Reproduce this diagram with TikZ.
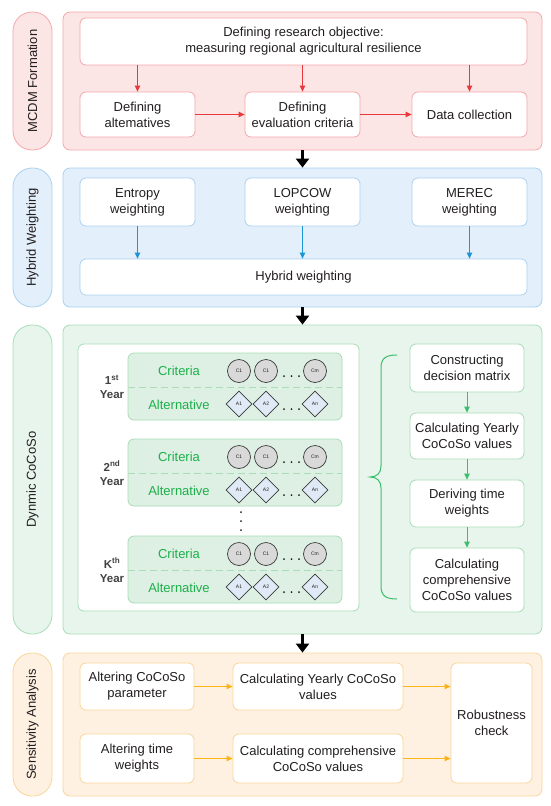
\documentclass[tikz,border=0pt]{standalone}
\usepackage{fontspec}
\setmainfont{Liberation Sans}
\usetikzlibrary{arrows.meta,shapes.geometric}
\definecolor{txt}{HTML}{231F20}
\definecolor{redfill}{HTML}{FCE5E5}
\definecolor{redline}{HTML}{F4A8AA}
\definecolor{redarr}{HTML}{E8383D}
\definecolor{bluefill}{HTML}{E3EFFA}
\definecolor{blueline}{HTML}{A9D2F0}
\definecolor{bluearr}{HTML}{1B95D3}
\definecolor{grnfill}{HTML}{E8F5EC}
\definecolor{grnline}{HTML}{A8DDB8}
\definecolor{grnblock}{HTML}{DDF0E3}
\definecolor{grntxt}{HTML}{1DB04A}
\definecolor{grnarr}{HTML}{3DBE6C}
\definecolor{orfill}{HTML}{FEF1E1}
\definecolor{orline}{HTML}{FAD59B}
\definecolor{orarr}{HTML}{FDB515}
\definecolor{critfill}{HTML}{D9D9D9}
\definecolor{altfill}{HTML}{E0EAF6}
\definecolor{shapeline}{HTML}{3A3A3A}
% \rbox{style}{name}{x1}{y1}{x2}{y2}{text}
\newcommand\rbox[7]{\node[#1, minimum width={#5-#3}, minimum height={#6-#4}] (#2) at ({(#3+#5)/2},{(#4+#6)/2}) {#7};}
\begin{document}
\begin{tikzpicture}[x=1pt,y=-1pt,
  base/.style={font=\fontsize{13}{16}\selectfont, text=txt, align=center},
  panel/.style={rounded corners=7pt, line width=0.8pt, inner sep=0pt},
  pill/.style={rounded corners=19pt, line width=0.8pt, inner sep=0pt},
  box/.style={base, draw, fill=white, rounded corners=6pt, line width=0.8pt, inner sep=0pt},
  sidelab/.style={base, rotate=90},
  arr/.style={line width=1pt, -{Triangle[length=6pt,width=5.5pt]}},
  bigarr/.style={line width=3.6pt, draw=black, -{Triangle[length=9pt,width=13pt]}},
  crit/.style={circle, draw=shapeline, fill=critfill, line width=0.7pt, minimum size=23pt, inner sep=0pt, font=\fontsize{5}{6}\selectfont, text=txt},
  alt/.style={diamond, draw=shapeline, fill=altfill, line width=0.7pt, minimum width=26pt, minimum height=26pt, inner sep=0pt, font=\fontsize{5}{6}\selectfont, text=txt},
  gtxt/.style={font=\fontsize{13}{15}\selectfont, text=grntxt},
  yeartxt/.style={font=\bfseries\fontsize{11.5}{15}\selectfont, text=txt!85, align=center},
  dot/.style={circle, fill=txt, inner sep=0pt, minimum size=2pt}
]
\useasboundingbox (0,0) rectangle (550,806);

% ---------- panels and side pills ----------
\rbox{panel, draw=redline, fill=redfill}{p1}{63}{12}{542}{150}{}
\rbox{pill, draw=redline, fill=redfill}{s1}{13}{12}{52}{150}{}
\node[sidelab] at (s1.center) {MCDM Formation};

\rbox{panel, draw=blueline, fill=bluefill}{p2}{63}{168}{542}{307}{}
\rbox{pill, draw=blueline, fill=bluefill}{s2}{13}{168}{52}{307}{}
\node[sidelab] at (s2.center) {Hybrid Weighting};

\rbox{panel, draw=grnline, fill=grnfill}{p3}{63}{325}{542}{634}{}
\rbox{pill, draw=grnline, fill=grnfill}{s3}{13}{325}{52}{634}{}
\node[sidelab] at (s3.center) {Dynmic CoCoSo};

\rbox{panel, draw=orline, fill=orfill}{p4}{63}{653}{542}{796}{}
\rbox{pill, draw=orline, fill=orfill}{s4}{13}{653}{52}{796}{}
\node[sidelab] at (s4.center) {Sensitivity Analysis};

\draw[bigarr] (p1.south) -- (p2.north);
\draw[bigarr] (p2.south) -- (p3.north);
\draw[bigarr] (p3.south) -- (p4.north);

% ---------- MCDM formation ----------
\rbox{box, draw=redline}{top}{80}{18}{527}{65}{Defining research objective:\\measuring regional agricultural resilience}
\rbox{box, draw=redline}{l1}{80}{92}{195}{137}{Defining\\altematives}
\rbox{box, draw=redline}{l2}{245}{92}{360}{137}{Defining\\evaluation criteria}
\rbox{box, draw=redline}{l3}{412}{92}{527}{137}{Data collection}
\foreach \n in {l1,l2,l3} \draw[arr, redarr] (top.south -| \n) -- (\n.north);
\draw[arr, redarr] (l1.east) -- (l2.west);
\draw[arr, redarr] (l2.east) -- (l3.west);

% ---------- Hybrid weighting ----------
\rbox{box, draw=blueline}{b1}{80}{178}{195}{226}{Entropy\\weighting}
\rbox{box, draw=blueline}{b2}{245}{178}{360}{226}{LOPCOW\\weighting}
\rbox{box, draw=blueline}{b3}{412}{178}{527}{226}{MEREC\\weighting}
\rbox{box, draw=blueline}{hyb}{80}{259}{527}{295}{Hybrid weighting}
\foreach \n in {b1,b2,b3} \draw[arr, bluearr] (\n.south) -- (hyb.north -| \n);

% ---------- Dynamic CoCoSo ----------
\rbox{panel, draw=grnline, fill=white, rounded corners=6pt}{inner}{78}{344}{359}{611}{}
\foreach \t/\n/\lab in {353/a/{1\textsuperscript{st}}, 439/b/{2\textsuperscript{nd}}, 536/k/{K\textsuperscript{th}}}{
  \rbox{panel, draw=grnline, fill=grnblock, rounded corners=6pt}{yb\n}{128}{\t}{342}{\t+67}{}
  \draw[grnline, line width=0.8pt, dash pattern=on 7pt off 4pt] (128,\t+34) -- (342,\t+34);
  \node[yeartxt] (yl\n) at (112,\t+34) {\lab\\[-1pt]Year};
  \node[gtxt] (ct\n) at (179,\t+18) {Criteria};
  \node[gtxt] (at\n) at (179,\t+52) {Alternative};
  \node[crit] (c\n1) at (239,\t+18) {C1};
  \node[crit] (c\n2) at (266,\t+18) {C1};
  \node[crit] (c\n3) at (315,\t+18) {Cm};
  \node[alt] (a\n1) at (239,\t+51) {A1};
  \node[alt] (a\n2) at (266,\t+51) {A2};
  \node[alt] (a\n3) at (315,\t+51) {An};
  \foreach \x in {284,291.5,299}{
    \node[dot] at (\x,\t+23) {};
    \node[dot] at (\x,\t+56) {};
  }
}
\foreach \y in {512,521,530} \node[dot] at (241,\y) {};

\rbox{box, draw=grnline}{g1}{410}{344}{524}{392}{Constructing\\decision matrix}
\rbox{box, draw=grnline}{g2}{410}{413}{524}{459}{Calculating Yearly\\CoCoSo values}
\rbox{box, draw=grnline}{g3}{410}{480}{524}{527}{Deriving time\\weights}
\rbox{box, draw=grnline}{g4}{410}{548}{524}{612}{Calculating\\comprehensive\\CoCoSo values}
\draw[arr, grnarr] (g1.south) -- (g2.north);
\draw[arr, grnarr] (g2.south) -- (g3.north);
\draw[arr, grnarr] (g3.south) -- (g4.north);
\draw[grnarr, line width=1pt] (397,355) .. controls (386,355) and (381,358) .. (381,368) -- (381,466) .. controls (381,473) and (377,477) .. (370,477) .. controls (377,477) and (381,481) .. (381,488) -- (381,586) .. controls (381,596) and (386,599) .. (397,599);

% ---------- Sensitivity analysis ----------
\rbox{box, draw=orline}{o1}{80}{663}{194}{710}{Altering CoCoSo\\parameter}
\rbox{box, draw=orline}{o2}{233}{663}{403}{710}{Calculating Yearly CoCoSo\\values}
\rbox{box, draw=orline}{o3}{80}{734}{194}{783}{Altering time\\weights}
\rbox{box, draw=orline}{o4}{233}{734}{403}{783}{Calculating comprehensive\\CoCoSo values}
\rbox{box, draw=orline}{rob}{451}{663}{532}{783}{Robustness\\check}
\draw[arr, orarr] (o1.east) -- (o2.west);
\draw[arr, orarr] (o3.east) -- (o4.west);
\draw[arr, orarr] (o2.east) -- (rob.west |- o2.east);
\draw[arr, orarr] (o4.east) -- (rob.west |- o4.east);
\end{tikzpicture}
\end{document}
